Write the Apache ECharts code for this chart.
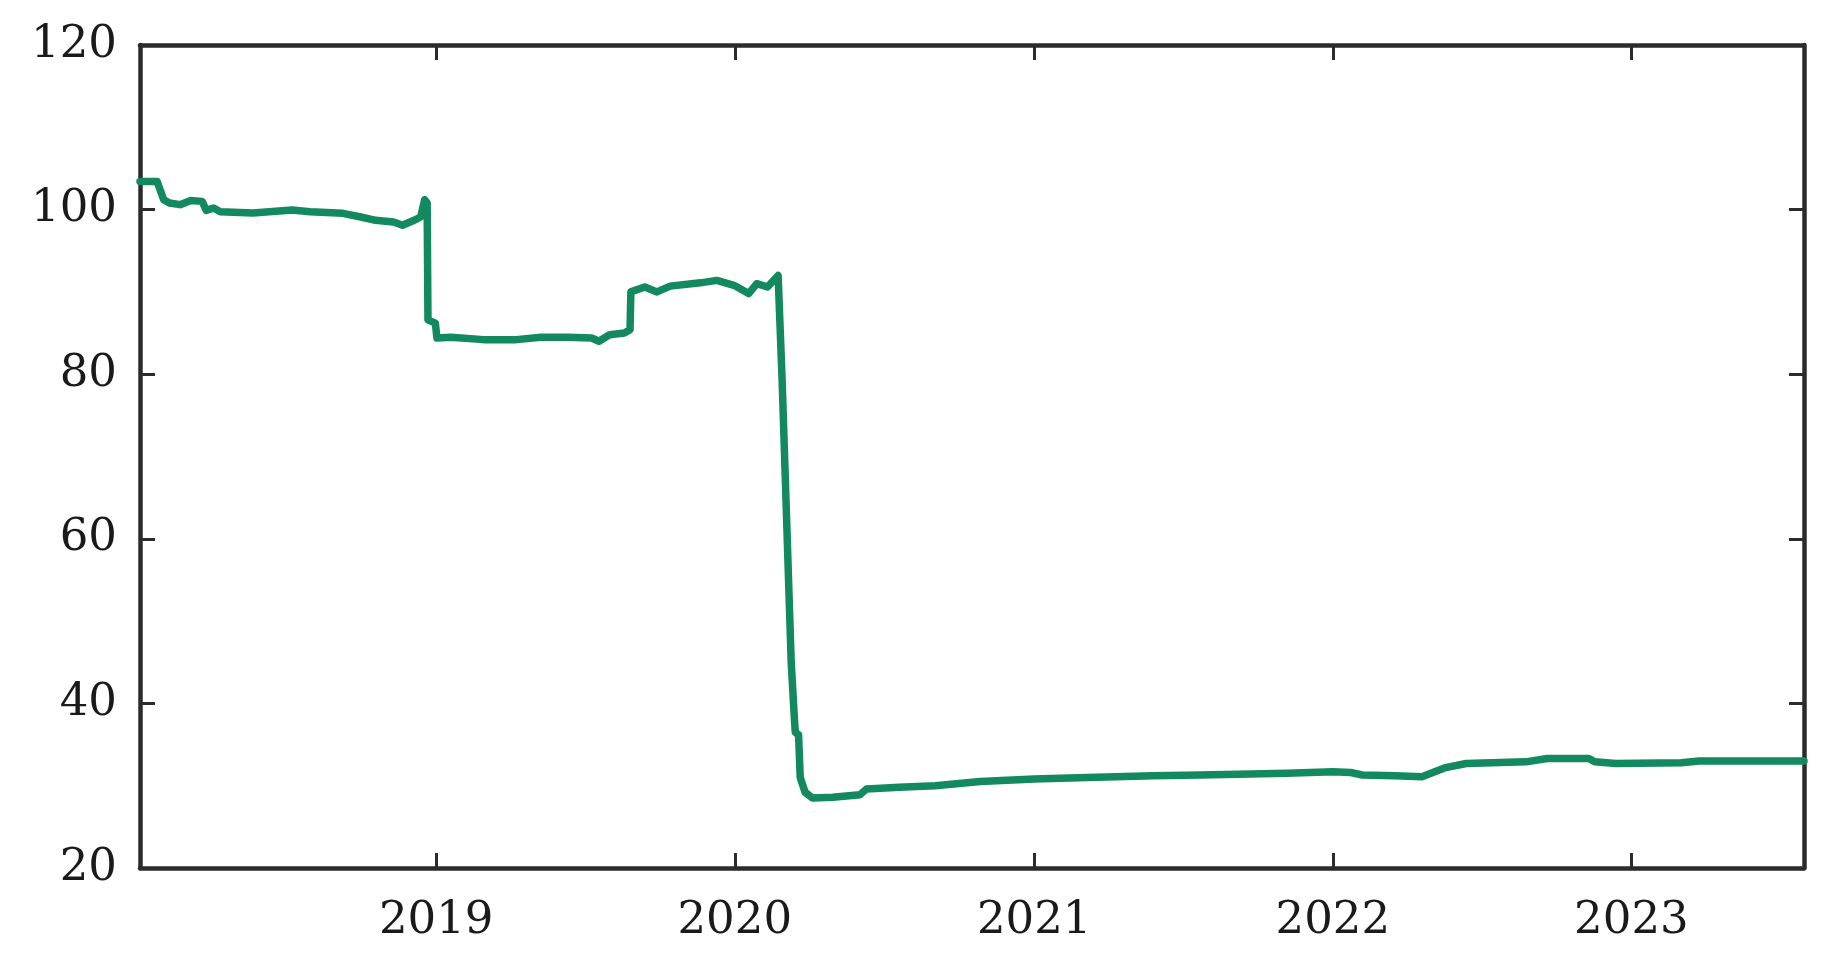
<!DOCTYPE html>
<html>
<head>
<meta charset="utf-8">
<script src="https://cdn.jsdelivr.net/npm/echarts@6/dist/echarts.min.js"></script>
<style>
html,body{margin:0;padding:0;background:#fff;}
#chart{width:1842px;height:956px;}
</style>
</head>
<body>
<div id="chart"></div>
<script>
// Dates and values
const dates = [
  '2018-01-04','2018-01-25','2018-02-02','2018-02-09','2018-02-22','2018-03-07','2018-03-21','2018-03-26',
  '2018-04-04','2018-04-12','2018-05-22','2018-07-09','2018-07-31','2018-09-09','2018-10-01','2018-10-19',
  '2018-11-10','2018-11-21','2018-12-05','2018-12-13','2018-12-18','2018-12-21','2018-12-22','2018-12-31',
  '2019-01-02','2019-01-19','2019-02-28','2019-04-09','2019-05-09','2019-06-11','2019-07-10','2019-07-19',
  '2019-08-01','2019-08-19','2019-08-26','2019-08-27','2019-09-13','2019-09-28','2019-10-14','2019-11-20',
  '2019-12-10','2019-12-31','2020-01-18','2020-01-28','2020-02-10','2020-02-23','2020-02-28','2020-03-10',
  '2020-03-14','2020-03-15','2020-03-19','2020-03-21','2020-03-27','2020-04-05','2020-04-30','2020-06-02',
  '2020-06-10','2020-07-20','2020-09-02','2020-10-27','2021-01-01','2021-03-07','2021-05-26','2021-07-23',
  '2021-11-06','2022-01-01','2022-01-23','2022-02-06','2022-03-18','2022-04-20','2022-05-19','2022-06-13',
  '2022-08-25','2022-09-20','2022-11-10','2022-11-17','2022-12-13','2023-03-03','2023-03-25','2023-07-31'
];
const values = [
  103.4,103.4,101.2,100.8,100.6,101.1,101.0,99.9,
  100.2,99.75,99.6,99.95,99.75,99.55,99.1,98.7,
  98.5,98.1,98.7,99.1,101.2,100.8,86.6,86.2,
  84.4,84.5,84.2,84.2,84.5,84.5,84.4,84.0,
  84.8,85.0,85.4,90.0,90.6,90.0,90.7,91.1,
  91.4,90.8,89.8,91.0,90.6,92.0,79.0,45.0,
  38.0,36.5,36.2,31.0,29.2,28.5,28.6,28.9,
  29.6,29.8,30.0,30.5,30.8,31.0,31.2,31.3,
  31.5,31.7,31.6,31.3,31.2,31.1,32.2,32.7,
  32.9,33.3,33.3,32.9,32.7,32.8,33.0,33.0
];
const yTicks = [20, 40, 60, 80, 100, 120];
const xMin = '2018-01-04';
const xMax = '2023-07-31';

const DAY = 24 * 3600 * 1000;
const seriesData = dates.map((d, i) => [d, values[i]]);

const chart = echarts.init(document.getElementById('chart'), null, {renderer: 'canvas'});
const axisLine = {show: true, onZero: false, lineStyle: {color: '#2b2b2b', width: 4.5}};
const tick = {show: true, inside: true, length: 15, lineStyle: {color: '#2b2b2b', width: 3}};
const labelFont = {fontFamily: 'DejaVu Serif', fontSize: 45, color: '#1a1a1a'};

const xBase = {
  type: 'time', min: xMin, max: xMax,
  minInterval: 365 * DAY, maxInterval: 366 * DAY,
  splitLine: {show: false}, axisLine: axisLine, axisTick: tick
};
const yBase = {
  type: 'value', min: yTicks[0], max: yTicks[yTicks.length - 1], interval: 20,
  splitLine: {show: false}, axisLine: axisLine, axisTick: tick
};

chart.setOption({
  backgroundColor: '#ffffff',
  animation: false,
  grid: {left: 140, right: 38, top: 45, bottom: 88, containLabel: false},
  xAxis: [
    Object.assign({}, xBase, {position: 'bottom',
      axisLabel: Object.assign({show: true, margin: 31, formatter: '{yyyy}', hideOverlap: false}, labelFont)}),
    Object.assign({}, xBase, {position: 'top', axisLabel: {show: false}})
  ],
  yAxis: [
    Object.assign({}, yBase, {position: 'left',
      axisLabel: Object.assign({show: true, margin: 23}, labelFont)}),
    Object.assign({}, yBase, {position: 'right', axisLabel: {show: false}})
  ],
  series: [{
    type: 'line',
    data: seriesData,
    xAxisIndex: 0, yAxisIndex: 0,
    showSymbol: false,
    lineStyle: {color: '#12895f', width: 7.5, join: 'round', cap: 'round'},
    z: 1
  }]
});
</script>
</body>
</html>
